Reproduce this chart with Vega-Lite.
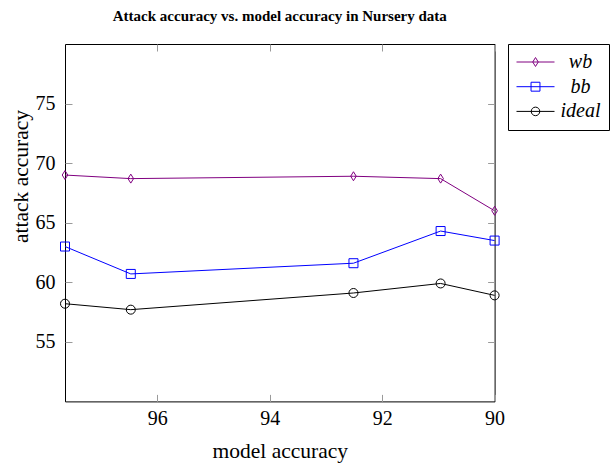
{
  "$schema": "https://vega.github.io/schema/vega-lite/v6.json",
  "width": 429.6,
  "height": 357.4,
  "autosize": "none",
  "padding": {"left": 65, "top": 44, "right": 115.4, "bottom": 66.6},
  "title": {
    "text": "Attack accuracy vs. model accuracy in Nursery data",
    "font": "Liberation Serif",
    "fontSize": 15,
    "fontWeight": "bold",
    "color": "black",
    "anchor": "middle",
    "frame": "group",
    "baseline": "alphabetic",
    "offset": 8
  },
  "data": {
    "values": [
      {"series": "wb", "model": 97.64, "attack": 69.0},
      {"series": "wb", "model": 96.47, "attack": 68.7},
      {"series": "wb", "model": 92.51, "attack": 68.9},
      {"series": "wb", "model": 90.96, "attack": 68.7},
      {"series": "wb", "model": 90.0, "attack": 66.0},
      {"series": "bb", "model": 97.64, "attack": 63.0},
      {"series": "bb", "model": 96.47, "attack": 60.7},
      {"series": "bb", "model": 92.51, "attack": 61.6},
      {"series": "bb", "model": 90.96, "attack": 64.3},
      {"series": "bb", "model": 90.0, "attack": 63.5},
      {"series": "ideal", "model": 97.64, "attack": 58.2},
      {"series": "ideal", "model": 96.47, "attack": 57.7},
      {"series": "ideal", "model": 92.51, "attack": 59.1},
      {"series": "ideal", "model": 90.96, "attack": 59.9},
      {"series": "ideal", "model": 90.0, "attack": 58.9}
    ]
  },
  "layer": [
    {
      "mark": {"type": "line", "strokeWidth": 1},
      "encoding": {
        "x": {
          "field": "model", "type": "quantitative",
          "scale": {"domain": [90, 97.64], "reverse": true, "nice": false, "zero": false},
          "axis": {
            "orient": "bottom", "values": [90, 92, 94, 96], "title": "model accuracy",
            "labelPadding": 30.3, "labelBaseline": "alphabetic", "labelFlush": false,
            "titleX": 214.8, "titleY": 55.6, "titleBaseline": "alphabetic", "titleAlign": "center"
          }
        },
        "y": {
          "field": "attack", "type": "quantitative",
          "scale": {"domain": [50, 80], "nice": false, "zero": false},
          "axis": {
            "orient": "left", "values": [55, 60, 65, 70, 75], "title": "attack accuracy",
            "labelPadding": 17, "labelFlush": false,
            "titleX": -38, "titleY": 132, "titleAngle": 270, "titleBaseline": "alphabetic", "titleAlign": "center"
          }
        },
        "color": {
          "field": "series", "type": "nominal",
          "scale": {"domain": ["wb", "bb", "ideal"], "range": ["#800080", "#0000ff", "#000000"]},
          "legend": {
            "orient": "none", "legendX": 443, "legendY": 0,
            "title": null, "padding": 8, "rowPadding": 4.7,
            "symbolType": "M-2,0L2,0", "symbolSize": 361, "symbolStrokeWidth": 1, "symbolOffset": 9.5,
            "labelFont": "Liberation Serif", "labelFontStyle": "italic", "labelFontSize": 20,
            "labelColor": "black", "labelAlign": "center", "labelOffset": 35,
            "strokeColor": "black", "fillColor": "white",
            "encode": {
              "symbols": {
                "update": {
                  "shape": {"signal": "datum.value === 'wb' ? 'M-2,0L2,0M0,-0.47L0.29,0L0,0.47L-0.29,0Z' : datum.value === 'bb' ? 'M-2,0L2,0M-0.47,-0.47L0.47,-0.47L0.47,0.47L-0.47,0.47Z' : 'M-2,0L2,0M0.45,0A0.45,0.45 0 1,1 -0.45,0A0.45,0.45 0 1,1 0.45,0Z'"},
                  "fill": {"value": "transparent"}
                }
              }
            }
          }
        }
      }
    },
    {
      "mark": {"type": "point", "filled": false, "size": 81, "strokeWidth": 1, "opacity": 1},
      "encoding": {
        "x": {
          "field": "model", "type": "quantitative",
          "axis": {"orient": "top", "values": [90, 92, 94, 96], "labels": false, "title": null}
        },
        "y": {
          "field": "attack", "type": "quantitative",
          "axis": {"orient": "right", "values": [55, 60, 65, 70, 75], "labels": false, "title": null}
        },
        "stroke": {
          "field": "series", "type": "nominal",
          "scale": {"range": ["#0000ff", "#000000", "#800080"]},
          "legend": null
        },
        "shape": {
          "field": "series", "type": "nominal",
          "scale": {"range": ["M-1,-1L1,-1L1,1L-1,1Z", "circle", "M0,-1L0.62,0L0,1L-0.62,0Z"]},
          "legend": null
        }
      }
    }
  ],
  "resolve": {"axis": {"x": "independent", "y": "independent"}},
  "config": {
    "view": {"stroke": "black", "strokeWidth": 1},
    "axis": {
      "grid": false, "domain": false,
      "ticks": true, "tickSize": -7, "tickColor": "#9a9a9a", "tickWidth": 1,
      "labelFont": "Liberation Serif", "labelFontSize": 20, "labelColor": "black",
      "titleFont": "Liberation Serif", "titleFontSize": 21.5, "titleFontWeight": "normal", "titleColor": "black"
    }
  }
}
